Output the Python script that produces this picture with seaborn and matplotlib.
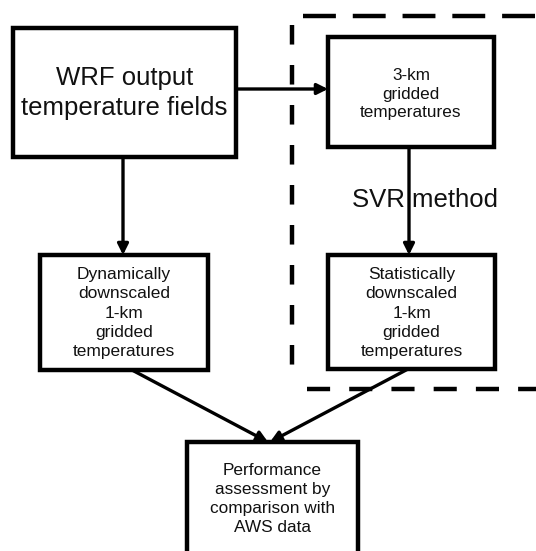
import matplotlib
matplotlib.use("Agg")
import matplotlib.pyplot as plt
import seaborn as sns
from matplotlib.patches import Rectangle, FancyArrowPatch
from matplotlib.lines import Line2D

sns.set_theme(style="white")
plt.rcParams['font.family'] = ['Liberation Sans', 'DejaVu Sans']

# -------------------------
# Flowchart content
# -------------------------
node_ids = ["wrf", "coarse", "dyn", "stat", "perf"]
node_labels = [
    "WRF output\ntemperature fields",
    "3-km\ngridded\ntemperatures",
    "Dynamically\ndownscaled\n1-km\ngridded\ntemperatures",
    "Statistically\ndownscaled\n1-km\ngridded\ntemperatures",
    "Performance\nassessment by\ncomparison with\nAWS data",
]
edges = [("wrf", "coarse"), ("wrf", "dyn"), ("coarse", "stat"),
         ("dyn", "perf"), ("stat", "perf")]
method_label = "SVR method"

# layout in pixel coords: (left, top, right, bottom), font size, line spacing, text centre y
layout = {
    "wrf": ((13, 28, 236, 157), 18.5, 1.3, 93),
    "coarse": ((328, 37, 494, 147), 12.3, 1.3, 94),
    "dyn": ((40, 255, 208, 370), 12.5, 1.36, 313),
    "stat": ((328, 255, 495, 369), 12.5, 1.36, 313),
    "perf": ((187, 442, 358, 560), 12.4, 1.34, 499),
}
edge_pts = {
    ("wrf", "coarse"): ((236, 89), (328, 89)),
    ("wrf", "dyn"): ((123, 157), (123, 255)),
    ("coarse", "stat"): ((409, 147), (409, 255)),
    ("dyn", "perf"): ((132, 370), (268, 442)),
    ("stat", "perf"): ((408, 369), (270, 442)),
}

fig = plt.figure(figsize=(5.36, 5.51), dpi=100)
ax = fig.add_axes([0, 0, 1, 1])
ax.set_xlim(0, 536)
ax.set_ylim(551, 0)
ax.axis("off")

# dashed frame around the statistical branch
ax.add_line(Line2D([292, 292], [25, 383], color="black", lw=3.2,
                   linestyle=(0, (4.4, 4.6)), solid_capstyle="butt"))
ax.add_line(Line2D([303, 545], [16, 16], color="black", lw=3.2,
                   linestyle=(0, (7.4, 3.8)), solid_capstyle="butt"))
ax.add_line(Line2D([307, 545], [389, 389], color="black", lw=3.2,
                   linestyle=(0, (5.2, 4.3)), solid_capstyle="butt"))

for nid, label in zip(node_ids, node_labels):
    (l, t, r, b), fs, ls, cy = layout[nid]
    ax.add_patch(Rectangle((l, t), r - l, b - t, fill=True, facecolor="white",
                           edgecolor="black", lw=3.2, zorder=3))
    ax.text((l + r) / 2, cy, label, ha="center", va="center", fontsize=fs,
            color="#111111", linespacing=ls, zorder=4)

for e in edges:
    p0, p1 = edge_pts[e]
    ax.add_patch(FancyArrowPatch(p0, p1, arrowstyle="-|>", mutation_scale=16,
                                 lw=2.4, color="black", shrinkA=0, shrinkB=0,
                                 zorder=2))

ax.text(425, 200, method_label, ha="center", va="center", fontsize=18.5,
        color="#111111", zorder=1)

fig.savefig("out.png", dpi=100)
